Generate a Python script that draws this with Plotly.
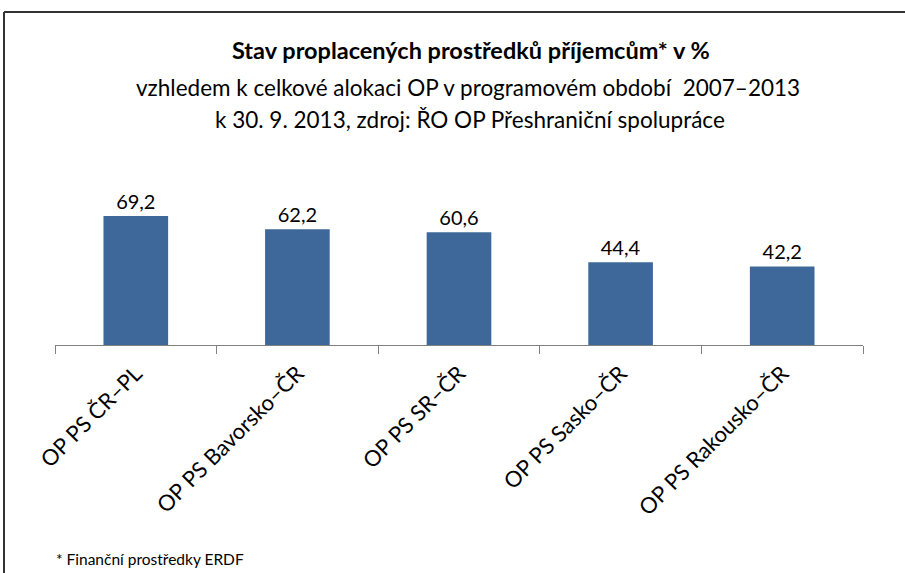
import plotly.graph_objs as go

# data
programs = ['OP PS ČR–PL', 'OP PS Bavorsko–ČR', 'OP PS SR–ČR', 'OP PS Sasko–ČR', 'OP PS Rakousko–ČR']
values = [69.2, 62.2, 60.6, 44.4, 42.2]
labels = [f"{v:.1f}".replace('.', ',') for v in values]

font_name = "Lato"

fig = go.Figure()
fig.add_trace(go.Bar(
    x=programs,
    y=values,
    text=labels,
    textposition='outside',
    textfont=dict(size=20, color='black', family=font_name),
    marker=dict(color='#3E6899', line=dict(width=0)),
    width=0.4,
    cliponaxis=False,
    showlegend=False,
))

fig.update_xaxes(tickangle=-45, ticks='outside', tickson='boundaries', ticklen=8,
                 tickcolor='#808080', showline=True, linecolor='#808080', linewidth=1,
                 automargin=False, ticklabelstandoff=6,
                 tickfont=dict(size=22, color='black', family=font_name))
fig.update_yaxes(range=[0, 80], visible=False, showgrid=False, automargin=False)

# convert pixel positions to paper coordinates
L, R, T, B = 55, 42, 196, 228
W, H = 905, 573
pw, ph = W - L - R, H - T - B

def px(x):
    return (x - L) / pw

def py(y):
    return (H - B - y) / ph

# title block
fig.add_annotation(text="<b>Stav proplacených prostředků příjemcům* v %</b>",
                   x=px(471), y=py(50), xref='paper', yref='paper', showarrow=False,
                   yanchor='middle', font=dict(size=23.5, color='black', family=font_name))
fig.add_annotation(text="vzhledem k celkové alokaci OP v programovém období  2007–2013",
                   x=px(468), y=py(88), xref='paper', yref='paper', showarrow=False,
                   yanchor='middle', font=dict(size=22.5, color='black', family=font_name))
fig.add_annotation(text="k 30. 9. 2013, zdroj: ŘO OP Přeshraniční spolupráce",
                   x=px(470), y=py(119), xref='paper', yref='paper', showarrow=False,
                   yanchor='middle', font=dict(size=22.5, color='black', family=font_name))

fig.add_annotation(text="* Finanční prostředky ERDF",
                   x=px(54), y=py(559), xref='paper', yref='paper',
                   xanchor='left', yanchor='middle', showarrow=False,
                   font=dict(size=15.5, color='black', family=font_name))

# frame: top and left edges only
fig.add_shape(type='line', xref='paper', yref='paper',
              x0=px(4), x1=px(910), y0=py(12), y1=py(12),
              line=dict(color='#333333', width=2))
fig.add_shape(type='line', xref='paper', yref='paper',
              x0=px(4), x1=px(4), y0=py(12), y1=py(580),
              line=dict(color='#333333', width=2))

fig.update_layout(width=W, height=H,
                  margin=dict(l=L, r=R, t=T, b=B),
                  paper_bgcolor='white', plot_bgcolor='white',
                  bargap=0.6, font_family=font_name)

# drop the default page margin so the figure sits at the window's corner
fig.write_html("out.html", config={'displayModeBar': False},
               post_script="document.body.style.margin='0';document.body.style.overflow='hidden';")
